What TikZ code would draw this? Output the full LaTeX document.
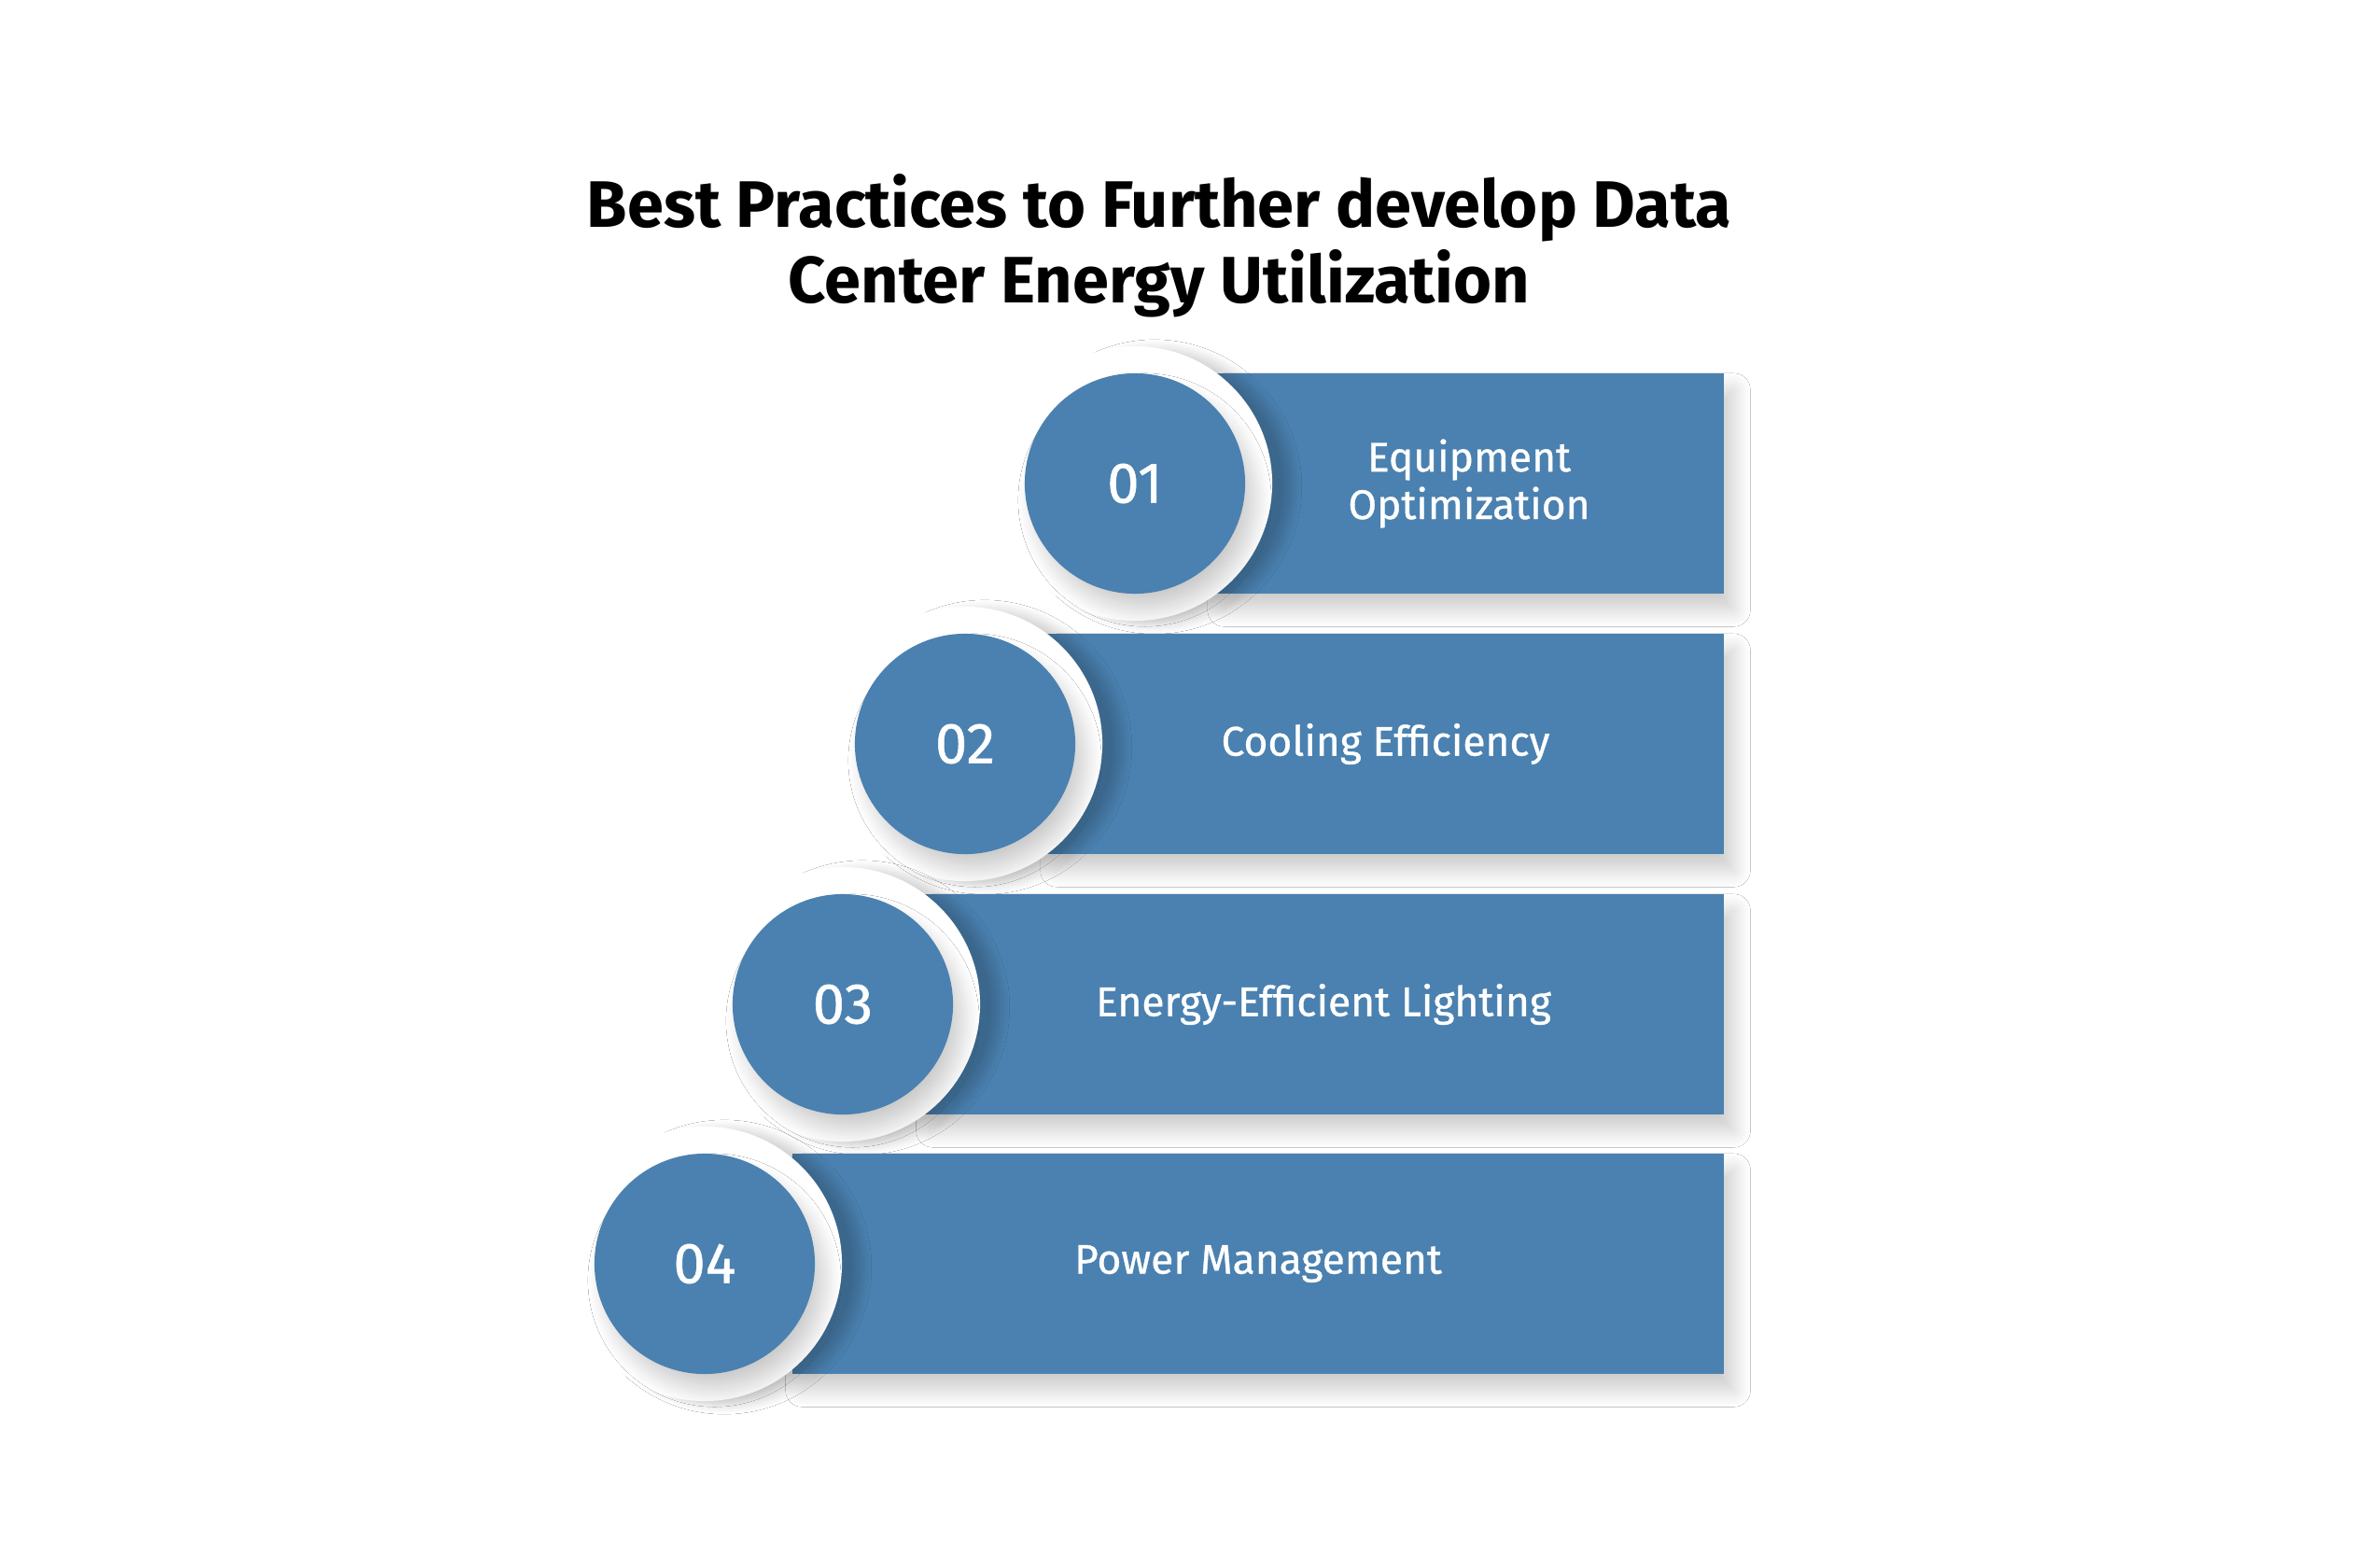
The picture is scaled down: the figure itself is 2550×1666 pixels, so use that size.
\documentclass[tikz,border=0pt]{standalone}
\usepackage{fontspec}
\setmainfont{Fira Sans}
\newfontfamily\labelfont{Fira Sans}[FakeBold=0.8]
\usetikzlibrary{shadows.blur}
\definecolor{stepblue}{RGB}{74,129,176}
\tikzset{
  pshadow/.style={blur shadow={shadow xshift=3pt, shadow yshift=-5pt, shadow blur radius=5pt, shadow blur steps=24, shadow opacity=20}},
  box/.style={fill=stepblue, minimum height=2.36cm, inner sep=0pt, text=white,
    font=\labelfont\fontsize{12.6}{14.5}\selectfont, align=center, pshadow},
  ring/.style={circle, fill=white, minimum size=2.94cm, inner sep=0pt,
    blur shadow={shadow xshift=6pt, shadow yshift=-1pt, shadow blur radius=3pt, shadow blur steps=16, shadow opacity=20}},
  num/.style={circle, fill=stepblue, minimum size=2.36cm, inner sep=0pt, text=white,
    font=\labelfont\fontsize{17.5}{18}\selectfont, pshadow}
}
\begin{document}
\begin{tikzpicture}[x=0.01cm, y=-0.01cm]
    \useasboundingbox[fill=white] (0,0) rectangle (2550,1666);

    % title
    \node[align=center, font=\fontsize{20}{23}\bfseries\selectfont] (title) at (1242,263)
        {Best Practices to Further develop Data\\Center Energy Utilization};

    % 01
    \node[box, minimum width=5.46cm] (box1) at (1574,518) {Equipment\\Optimization};
    \node[ring] (ring1) at (1216,518) {};
    \node[num] (num1) at (1216,518) {01};

    % 02
    \node[box, minimum width=7.25cm] (box2) at (1484.5,797) {Cooling Efficiency};
    \node[ring] (ring2) at (1034,797) {};
    \node[num] (num2) at (1034,797) {02};

    % 03
    \node[box, minimum width=8.58cm] (box3) at (1418,1076) {Energy-Efficient Lighting};
    \node[ring] (ring3) at (903,1076) {};
    \node[num] (num3) at (903,1076) {03};

    % 04
    \node[box, minimum width=9.98cm] (box4) at (1348,1354) {Power Management};
    \node[ring] (ring4) at (755,1354) {};
    \node[num] (num4) at (755,1354) {04};
\end{tikzpicture}
\end{document}
